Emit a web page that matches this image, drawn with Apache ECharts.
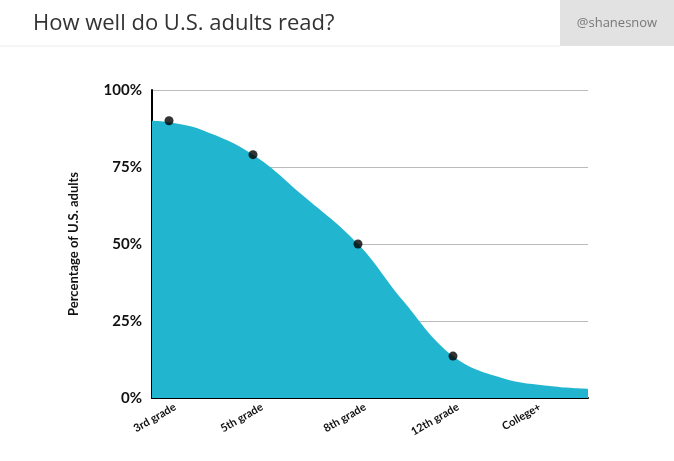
<!DOCTYPE html>
<html><head><meta charset="utf-8">
<script src="https://cdn.jsdelivr.net/npm/echarts@6/dist/echarts.min.js"></script>
<style>html,body{margin:0;padding:0;background:#fff}#c{width:674px;height:461px}</style>
</head><body><div id="c"></div>
<script>
const categories = ["3rd grade","5th grade","8th grade","12th grade","College+"];
const categoryPos = [23,110,213,306,388];
const pointX = [17,101,206,301];
const pointY = [90,79,50,13.6];
const curveX = [0,17,50,101,150,206,250,301,350,400,436];
const curveY = [90,89.5,87,79,66,50,32,13.6,6.5,3.8,3];
const yTicks = [0,25,50,75,100];

const chart = echarts.init(document.getElementById('c'));
chart.setOption({
  animation:false,
  graphic:[
    {type:'text',left:33,top:13,style:{text:'How well do U.S. adults read?',font:'22px "Open Sans", sans-serif',fill:'#333'}},
    {type:'rect',shape:{x:560,y:0,width:114,height:46},style:{fill:'#e2e2e2'}},
    {type:'text',x:617,y:23,style:{text:'@shanesnow',font:'13px "Open Sans", sans-serif',fill:'#777',align:'center',verticalAlign:'middle'}},
    {type:'line',shape:{x1:0,y1:46,x2:560,y2:46},style:{stroke:'#ececec',lineWidth:1}}
  ],
  grid:{left:152,right:86,top:90,bottom:63},
  xAxis:{type:'value',min:0,max:436,
    axisLine:{show:true,lineStyle:{color:'#000',width:2}},
    axisTick:{show:false},splitLine:{show:false},
    axisLabel:{customValues:categoryPos,rotate:30,color:'#111',fontWeight:'bold',fontSize:11,
      fontFamily:'Lato, sans-serif',formatter:v=>categories[categoryPos.indexOf(v)]||''}},
  yAxis:{type:'value',min:0,max:100,interval:25,
    name:'Percentage of U.S. adults',nameLocation:'middle',nameGap:72,nameRotate:90,
    nameTextStyle:{fontWeight:'bold',fontSize:13,color:'#111',fontFamily:'Lato, sans-serif'},
    axisLine:{show:true,lineStyle:{color:'#000',width:2}},axisTick:{show:false},
    splitLine:{lineStyle:{color:'#bbb'}},
    axisLabel:{formatter:'{value}%',fontWeight:'bold',fontSize:15,color:'#111',margin:10,fontFamily:'Lato, sans-serif'}},
  series:[
    {type:'line',smooth:0.4,symbol:'none',data:curveX.map((x,i)=>[x,curveY[i]]),
      lineStyle:{width:0},areaStyle:{color:'#22b5d0',opacity:1},z:2},
    {type:'scatter',data:pointX.map((x,i)=>[x,pointY[i]]),symbolSize:9,itemStyle:{color:'#000'},z:5}
  ]
});
</script></body></html>
